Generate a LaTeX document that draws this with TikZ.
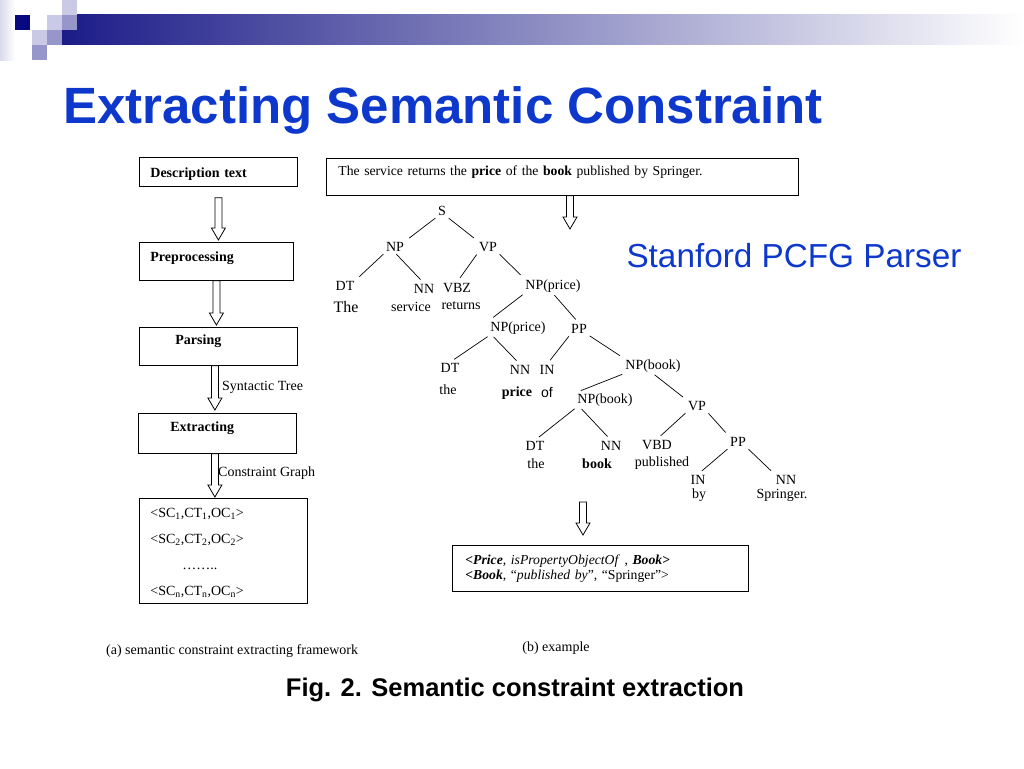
\documentclass[tikz,border=0pt]{standalone}
\usepackage{fontspec}
\setmainfont{Liberation Serif}
\newfontfamily\arialfont{Liberation Sans}
\usepackage{tikz}
\usetikzlibrary{calc}
\usepackage{xcolor}

\definecolor{titleblue}{RGB}{14,56,204}
\definecolor{barnavy}{RGB}{28,28,136}
\definecolor{bargray}{RGB}{150,150,184}
\definecolor{sqnavy}{RGB}{8,8,128}
\definecolor{sqlight}{RGB}{202,202,230}
\definecolor{sqmid}{RGB}{150,150,202}

\newcommand{\fsmall}{\fontsize{14pt}{16pt}\selectfont}
\newcommand{\blockarrow}[2]{%
  \draw[blockarrow] let \p1=#1, \p2=#2 in
    (\x1-3.5pt,\y1) -- (\x1-3.5pt,\y2+12pt) -- (\x1-7pt,\y2+12pt) -- (\x1,\y2)
    -- (\x1+7pt,\y2+12pt) -- (\x1+3.5pt,\y2+12pt) -- (\x1+3.5pt,\y1) -- cycle;}

\begin{document}
\begin{tikzpicture}[x=1pt,y=-1pt,
  % boxes of the framework
  stepbox/.style={draw,line width=0.8pt,inner xsep=11pt,inner ysep=0pt,align=left,
    anchor=north west,font=\fsmall\bfseries},
  blockarrow/.style={draw=black,fill=white,line width=0.8pt},
  % parse tree
  tag/.style={inner sep=1pt,font=\fsmall},
  word/.style={inner sep=1pt,font=\fsmall},
  branch/.style={draw=black,line width=0.7pt,shorten <=2pt,shorten >=5pt}
]
\useasboundingbox (0,0) rectangle (1024,768);

% slide decoration
\shade[left color=sqlight!70,right color=white] (0,0) rectangle (15,60);
\shade[left color=barnavy,middle color=bargray,right color=white] (62,15) rectangle (1024,45);
\fill[sqlight] (62,0) rectangle (77,15);
\fill[sqnavy] (15,15) rectangle (30,30);
\fill[sqlight] (47,15) rectangle (62,30);
\fill[sqmid] (62,15) rectangle (77,30);
\fill[sqlight] (32,30) rectangle (47,45);
\fill[sqmid] (47,30) rectangle (62,45);
\fill[sqmid] (32,45) rectangle (47,60);

\node[anchor=base west,inner sep=0pt,text=titleblue,
  font=\arialfont\bfseries\fontsize{51pt}{60pt}\selectfont] (title) at (63,123)
  {Extracting Semantic Constraint};

% (a) framework
\node[stepbox,text width=136pt,text height=20pt,text depth=9pt] (desc) at (139,157) {Description text};
\node[stepbox,text width=132pt,text height=19pt,text depth=19pt] (prep) at (139,242) {Preprocessing};
\node[stepbox,text width=136pt,text height=17pt,text depth=21pt] (parse) at (139,327) {\hspace*{25pt}Parsing};
\node[stepbox,text width=136pt,text height=18pt,text depth=22pt] (extract) at (138,413) {\hspace*{21pt}Extracting};
\node[draw,line width=0.8pt,anchor=north west,minimum width=168pt,
  inner xsep=11pt,inner ysep=0pt,text width=146pt,align=left,text height=19pt,text depth=86pt,
  font=\fontsize{14pt}{26pt}\selectfont] (tuples) at (139,498)
  {<SC\textsubscript{1},CT\textsubscript{1},OC\textsubscript{1}>\\
   <SC\textsubscript{2},CT\textsubscript{2},OC\textsubscript{2}>\\
   \hspace*{32pt}……..\\
   <SC\textsubscript{n},CT\textsubscript{n},OC\textsubscript{n}>};

\blockarrow{($(desc.south)+(0,11)$)}{($(prep.north)+(0,-2)$)}
\blockarrow{(prep.south)}{($(parse.north)+(0,-2)$)}
\blockarrow{($(parse.south)+(-3.5,0)$)}{($(extract.north)+(0,-3)$)}
\blockarrow{($(extract.south)+(-2.5,0)$)}{($(tuples.north -| extract.south)+(0,-1)$)}

\node[anchor=west,inner sep=0pt,font=\fsmall] (treelbl) at (222,387) {Syntactic Tree};
\node[anchor=west,inner sep=0pt,font=\fsmall] (graphlbl) at (218,473) {Constraint Graph};

% (b) example
\node[draw,line width=0.8pt,anchor=north west,inner xsep=12pt,inner ysep=0pt,
  text width=448pt,align=left,text height=17pt,text depth=20pt,
  font=\fontsize{13.7pt}{16pt}\selectfont] (sentence) at (326,158)
  {The service returns the \textbf{price} of the \textbf{book} published by Springer.};
\coordinate (treein) at (570,229);
\blockarrow{(sentence.south -| treein)}{(treein)}

\node[tag] (s) at (442,211) {S};
\node[tag] (np) at (395,247) {NP};
\node[tag] (vp) at (488,247) {VP};
\node[tag] (dt1) at (345,286) {DT};
\node[tag] (nn1) at (424,289) {NN};
\node[tag] (vbz) at (457,288) {VBZ};
\node[tag] (npp1) at (553,286) {NP(price)};
\node[word,font=\fontsize{16pt}{18pt}\selectfont] (wThe) at (346,307) {The};
\node[word] (wservice) at (411,307) {service};
\node[word] (wreturns) at (461,306) {returns};
\node[tag] (npp2) at (518,328) {NP(price)};
\node[tag] (pp1) at (579,329) {PP};
\node[tag] (dt2) at (450,368) {DT};
\node[tag] (nn2) at (520,370) {NN};
\node[tag] (in1) at (547,370) {IN};
\node[tag] (npb1) at (653,366) {NP(book)};
\node[word] (wthe1) at (448,390) {the};
\node[word,font=\fsmall\bfseries] (wprice) at (517,393) {price};
\node[word,font=\arialfont\fsmall] (wof) at (547,392) {of};
\node[tag] (npb2) at (605,400) {NP(book)};
\node[tag] (vp2) at (697,406) {VP};
\node[tag] (dt3) at (535,446) {DT};
\node[tag] (nn3) at (611,446) {NN};
\node[tag] (vbd) at (657,445) {VBD};
\node[tag] (pp2) at (738,442) {PP};
\node[word] (wthe2) at (536,464) {the};
\node[word,font=\fsmall\bfseries] (wbook) at (597,464) {book};
\node[word] (wpublished) at (662,463) {published};
\node[tag] (in2) at (698,480) {IN};
\node[tag] (nn4) at (786,480) {NN};
\node[word] (wby) at (699,495) {by};
\node[word] (wspringer) at (782,495) {Springer.};

% branches
\draw[branch] (s.south west)--(np.north east);
\draw[branch] (s.south east)--(vp.north west);
\draw[branch] (np.south west)--(dt1.north east);
\draw[branch] (np.south)--(nn1.north);
\draw[branch] (vp.south west)--(vbz.north);
\draw[branch] (vp.south east)--(npp1.north west);
\draw[branch] (npp1.south west)--(npp2.north west);
\draw[branch] (npp1.south)--(pp1.north);
\draw[branch] (npp2.south west)--(dt2.north);
\draw[branch] ([xshift=3pt]npp2.south west)--(nn2.north);
\draw[branch] (pp1.south west)--(in1.north);
\draw[branch] (pp1.south east)--(npb1.north west);
\draw[branch] (npb1.south west)--(npb2.north west);
\draw[branch] (npb1.south)--(vp2.north west);
\draw[branch] (npb2.south west)--(dt3.north);
\draw[branch] ([xshift=4pt]npb2.south west)--(nn3.north);
\draw[branch] (vp2.south west)--(vbd.north);
\draw[branch] (vp2.south east)--(pp2.north west);
\draw[branch] (pp2.south west)--(in2.north);
\draw[branch] (pp2.south east)--(nn4.north west);

\node[draw,line width=0.8pt,anchor=north west,inner xsep=13pt,inner ysep=0pt,
  text width=270pt,align=left,minimum height=46pt,
  font=\fontsize{13.7pt}{15pt}\selectfont] (result) at (452,545)
  {\textbf{\textit{<Price}}, \textit{isPropertyObjectOf} , \textbf{\textit{Book>}}\\
   \textbf{\textit{<Book}}, “\textit{published by}”, “Springer”>};
\coordinate (resin) at (583,502);
\blockarrow{(resin)}{($(result.north -| resin)+(0,-10)$)}

\node[anchor=base,inner sep=0pt,text=titleblue,
  font=\arialfont\fontsize{33.3pt}{40pt}\selectfont] (parser) at (794,267) {Stanford PCFG Parser};

% captions
\node[anchor=base west,inner sep=0pt,font=\fsmall] (capa) at (106,654) {(a) semantic constraint extracting framework};
\node[anchor=base,inner sep=0pt,font=\fsmall] (capb) at (556,651) {(b) example};
\node[anchor=base,inner sep=0pt,font=\arialfont\bfseries\fontsize{25.5pt}{30pt}\selectfont] (fig) at (515,696)
  {Fig. 2. Semantic constraint extraction};
\end{tikzpicture}
\end{document}
